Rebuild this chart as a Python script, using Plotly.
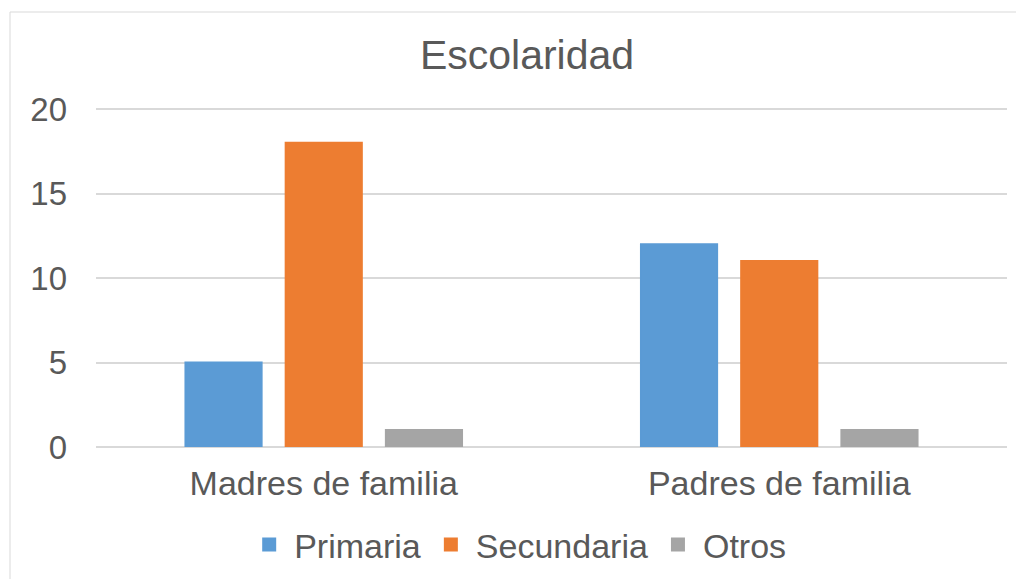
import plotly.graph_objects as go

categories = ["Madres de familia", "Padres de familia"]
primaria = [5, 12]
secundaria = [18, 11]
otros = [1, 1]
y_ticks = [0, 5, 10, 15, 20]

# page body adds an 8px offset, so everything is laid out 8px up/left
OFF = 8
W, H = 1024, 579
ml, mr, mt, mb = 96 - OFF, 1024 - 1007 + OFF, 105 - OFF, 579 - 447 + OFF
y_top = 20 + 4 / 16.9  # small headroom so the 20 gridline is drawn

font_family = "Liberation Sans, Arial, sans-serif"
text_color = "#595959"
colors = ["#5B9BD5", "#ED7D31", "#A5A5A5"]

fig = go.Figure()
for name, vals, c in zip(["Primaria", "Secundaria", "Otros"], [primaria, secundaria, otros], colors):
    fig.add_trace(go.Bar(name=name, x=categories, y=vals,
                         marker=dict(color=c, line=dict(color=c, width=2))))

pw = W - ml - mr
ph = H - mt - mb

fig.update_layout(
    width=W, height=H,
    margin=dict(l=ml, r=mr, t=mt, b=mb, pad=0),
    paper_bgcolor="white", plot_bgcolor="white",
    font=dict(family=font_family, color=text_color, size=33),
    title=dict(text="Escolaridad", x=(527 - OFF) / W, xanchor="center", y=1 - (55 - OFF) / H, yanchor="middle",
               font=dict(size=41, color=text_color, family=font_family)),
    barmode="group",
    bargap=0.34,
    bargroupgap=0.24,
    showlegend=True,
    legend=dict(orientation="h", x=(482 - OFF) / W, xanchor="center", y=1 - (545 - OFF) / H, yanchor="middle",
                yref="container", font=dict(size=34, color=text_color), itemwidth=40,
                traceorder="normal"),
    xaxis=dict(showgrid=False, showline=False, zeroline=False, ticks="",
               tickfont=dict(size=34, color=text_color), ticklabelstandoff=13),
    yaxis=dict(range=[0, y_top], tickvals=y_ticks, showgrid=True, gridcolor="#D9D9D9", gridwidth=1.5,
               zeroline=True, zerolinecolor="#D9D9D9", zerolinewidth=1.5, showline=False,
               ticks="", tickfont=dict(size=33, color=text_color), ticklabelstandoff=28),
    shapes=[dict(type="rect", xref="paper", yref="paper",
                 x0=(10 - OFF - ml) / pw, x1=(1060 - ml) / pw,
                 y0=-(620 - (H - mb)) / ph, y1=1 + (mt - (12 - OFF)) / ph,
                 line=dict(color="#D9D9D9", width=1), fillcolor="rgba(0,0,0,0)", layer="below")],
)

fig.write_html("out.html")
